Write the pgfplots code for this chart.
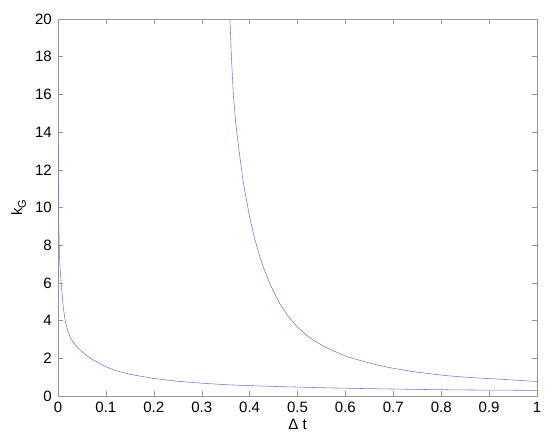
\documentclass[border=0pt]{standalone}
\usepackage{fontspec}
\setmainfont{Liberation Sans}
\usepackage{pgfplots}
\pgfplotsset{compat=1.18}

\definecolor{curve}{RGB}{115,115,225}
\definecolor{axgray}{RGB}{150,150,150}

\begin{document}
\fontsize{15}{18}\selectfont
\begin{tikzpicture}
\begin{axis}[
    name=ax,
    scale only axis,
    width=479pt,
    height=377pt,
    xmin=0, xmax=1,
    ymin=0, ymax=20,
    xtick={0,0.1,...,1},
    ytick={0,2,...,20},
    xticklabels={0,0.1,0.2,0.3,0.4,0.5,0.6,0.7,0.8,0.9,1},
    tick align=inside,
    xtick pos=both,
    ytick pos=both,
    major tick length=5pt,
    axis line style={axgray},
    every tick/.style={axgray},
    tick label style={font=\fontsize{15}{18}\selectfont, black},
    /pgf/number format/assume math mode=true,
    xticklabel style={yshift=-1pt},
    yticklabel style={xshift=-1pt},
    xlabel={Δ t},
    ylabel={k\raisebox{-0.45ex}{\fontsize{11}{13}\selectfont G}},
    label style={font=\fontsize{15}{18}\selectfont},
    xlabel style={yshift=4pt},
    ylabel style={yshift=-1pt},
]
% lower branch
\addplot[curve, line width=0.55pt] coordinates {
    (0.0005,13.5) (0.001,11) (0.0015,9.2) (0.003,7.5) (0.005,6.5)
    (0.008,5.6) (0.011,4.7) (0.015,4.0) (0.02,3.5) (0.025,3.15)
    (0.03,2.9) (0.04,2.6) (0.05,2.35) (0.06,2.15) (0.07,1.97)
    (0.08,1.82) (0.09,1.67) (0.1,1.55) (0.12,1.35)
    (0.15,1.15) (0.2,0.93) (0.25,0.78) (0.3,0.68) (0.35,0.6)
    (0.4,0.55) (0.46,0.5) (0.55,0.44) (0.65,0.39) (0.75,0.35)
    (0.85,0.32) (1.0,0.3)
};
% upper branch
\addplot[curve, line width=0.55pt] coordinates {
    (0.359,20) (0.362,18) (0.366,16) (0.371,14.5) (0.378,13)
    (0.387,11.3) (0.40,9.5) (0.41,8.4) (0.42,7.5) (0.43,6.75)
    (0.445,5.8) (0.463,4.9) (0.48,4.25) (0.5,3.65) (0.52,3.2)
    (0.533,2.97) (0.55,2.7) (0.57,2.45) (0.603,2.09) (0.64,1.82)
    (0.672,1.61) (0.70,1.47) (0.742,1.29) (0.78,1.17) (0.811,1.08)
    (0.85,1.0) (0.881,0.95) (0.95,0.85) (1.0,0.77)
};
\end{axis}
\pgfresetboundingbox
\path (ax.south west) ++(-58pt,-48pt) rectangle (ax.north east) ++(13pt,19pt);
\end{tikzpicture}
\end{document}
